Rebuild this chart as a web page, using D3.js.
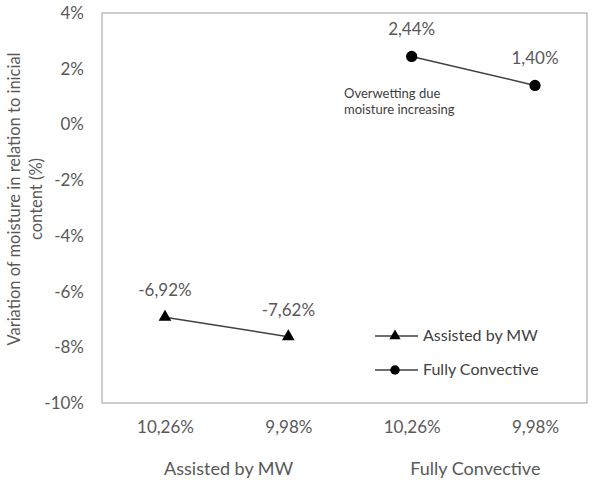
<!DOCTYPE html>
<html>
<head>
<meta charset="utf-8">
<script src="https://cdn.jsdelivr.net/npm/d3@7"></script>
<style>
  body { margin: 0; background: #fff; }
  svg text { font-family: Lato, "Open Sans", sans-serif; fill: #595959; }
</style>
</head>
<body>
<div id="chart"></div>
<script>
// values
const tickLabels = ["10,26%", "9,98%", "10,26%", "9,98%"];
const groups = ["Assisted by MW", "Fully Convective"];
const assistedMW = [-6.92, -7.62];
const fullyConvective = [2.44, 1.40];
const yTicks = [4, 2, 0, -2, -4, -6, -8, -10];

const width = 598;
const height = 480;
const plot = { left: 102, right: 587, top: 13, bottom: 403 };

const svg = d3.select("#chart").append("svg")
  .attr("width", width)
  .attr("height", height);

// categories are keyed by position, labels come from tickLabels
const xScale = d3.scalePoint()
  .domain(d3.range(tickLabels.length))
  .range([165, 535]);

const yScale = d3.scaleLinear()
  .domain([-10, 4])
  .range([plot.bottom, plot.top]);

// plot area border
svg.append("rect")
  .attr("x", plot.left)
  .attr("y", plot.top)
  .attr("width", plot.right - plot.left)
  .attr("height", plot.bottom - plot.top)
  .attr("fill", "none")
  .attr("stroke", "#b3b3b3")
  .attr("stroke-width", 1.3);

// y axis
const yAxis = d3.axisLeft(yScale)
  .tickValues(yTicks)
  .tickSize(0)
  .tickPadding(0)
  .tickFormat(d => String(d) + "%");

const yg = svg.append("g")
  .attr("transform", "translate(84,0)")
  .call(yAxis);
yg.select(".domain").remove();
yg.selectAll("text")
  .style("font-size", "17px")
  .style("font-family", "Lato")
  .style("fill", "#595959");

// x axis (category labels only)
const xAxis = d3.axisBottom(xScale)
  .tickSize(0)
  .tickPadding(0)
  .tickFormat(i => tickLabels[i]);

const xg = svg.append("g")
  .attr("transform", "translate(0,421)")
  .call(xAxis);
xg.select(".domain").remove();
xg.selectAll("text")
  .style("font-size", "17px")
  .style("font-family", "Lato")
  .style("fill", "#595959");

// group labels under each pair
svg.append("g")
  .selectAll("text")
  .data(groups)
  .join("text")
  .attr("x", (d, i) => (xScale(i * 2) + xScale(i * 2 + 1)) / 2 + 2)
  .attr("y", 475)
  .attr("text-anchor", "middle")
  .style("font-size", "18px")
  .text(d => d);

// y axis title
const yTitle = svg.append("text")
  .attr("transform", "translate(0,199) rotate(-90)")
  .attr("text-anchor", "middle")
  .style("font-size", "16.5px");
yTitle.append("tspan").attr("x", 0).attr("y", 20).text("Variation of moisture in relation to inicial");
yTitle.append("tspan").attr("x", 0).attr("y", 42).text("content (%)");

const series = [
  { name: "Assisted by MW", values: assistedMW, offset: 0, symbol: d3.symbolTriangle },
  { name: "Fully Convective", values: fullyConvective, offset: 2, symbol: d3.symbolCircle }
];

const line = d3.line()
  .x(d => xScale(d.i))
  .y(d => yScale(d.v));

const fmt = v => v.toFixed(2).replace(".", ",") + "%";

series.forEach(s => {
  const pts = s.values.map((v, k) => ({ i: s.offset + k, v: v }));

  svg.append("path")
    .datum(pts)
    .attr("d", line)
    .attr("fill", "none")
    .attr("stroke", "#404040")
    .attr("stroke-width", 1.5);

  svg.append("g")
    .selectAll("path")
    .data(pts)
    .join("path")
    .attr("d", d3.symbol().type(s.symbol).size(s.symbol === d3.symbolCircle ? 100 : 70))
    .attr("transform", d => `translate(${xScale(d.i)},${yScale(d.v)})`)
    .attr("fill", "#000");

  svg.append("g")
    .selectAll("text")
    .data(pts)
    .join("text")
    .attr("x", d => xScale(d.i))
    .attr("y", d => yScale(d.v) - 21)
    .attr("text-anchor", "middle")
    .style("font-size", "17px")
    .text(d => fmt(d.v));
});

// annotation
const note = svg.append("text")
  .style("font-size", "13px")
  .style("fill", "#404040");
note.append("tspan").attr("x", 344).attr("y", 98).text("Overwetting due");
note.append("tspan").attr("x", 344).attr("y", 114).text("moisture increasing");

// legend
const legend = svg.append("g")
  .selectAll("g")
  .data(series)
  .join("g")
  .attr("transform", (d, i) => `translate(375,${336 + i * 34})`);

legend.append("line")
  .attr("x1", 0)
  .attr("x2", 43)
  .attr("stroke", "#404040")
  .attr("stroke-width", 1.5);

legend.append("path")
  .attr("d", d => d3.symbol().type(d.symbol).size(d.symbol === d3.symbolCircle ? 70 : 55)())
  .attr("transform", "translate(20,0)")
  .attr("fill", "#000");

legend.append("text")
  .attr("x", 48)
  .attr("y", 5)
  .style("font-size", "16px")
  .style("fill", "#404040")
  .text(d => d.name);
</script>
</body>
</html>
